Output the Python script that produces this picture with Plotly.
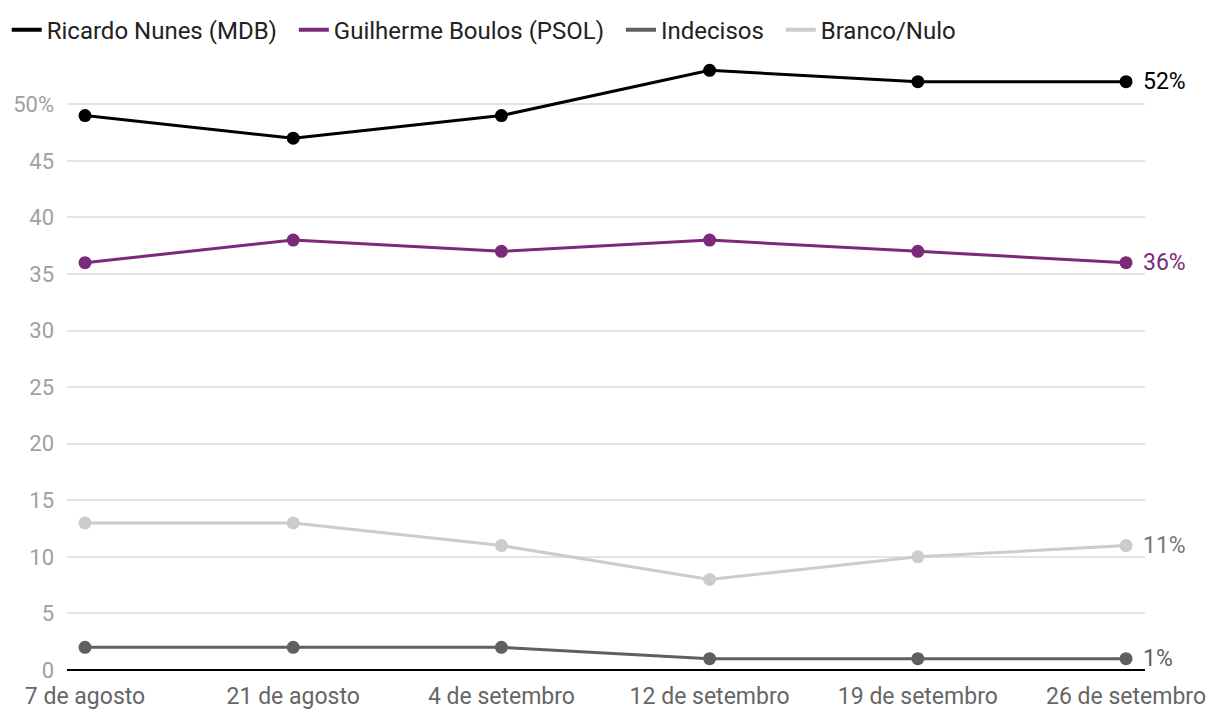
import plotly.graph_objects as go

dates = ["7 de agosto", "21 de agosto", "4 de setembro", "12 de setembro", "19 de setembro", "26 de setembro"]
nunes = [49, 47, 49, 53, 52, 52]
boulos = [36, 38, 37, 38, 37, 36]
indecisos = [2, 2, 2, 1, 1, 1]
branco = [13, 13, 11, 8, 10, 11]

series = [
    ("Ricardo Nunes (MDB)", nunes, "#000000", "#000000"),
    ("Guilherme Boulos (PSOL)", boulos, "#7b2a7b", "#7b2a7b"),
    ("Indecisos", indecisos, "#606060", "#606060"),
    ("Branco/Nulo", branco, "#cccccc", "#777777"),
]

ytick_vals = [0, 5, 10, 15, 20, 25, 30, 35, 40, 45, 50]
ytick_text = ["0", "5", "10", "15", "20", "25", "30", "35", "40", "45", "50%"]

x_idx = list(range(len(dates)))
fig = go.Figure()
for name, vals, col, lblcol in series:
    fig.add_trace(go.Scatter(
        x=x_idx, y=vals, name=name, mode="lines+markers",
        line=dict(color=col, width=3), marker=dict(color=col, size=13),
        cliponaxis=False, showlegend=False,
    ))
    fig.add_annotation(
        x=x_idx[-1], y=vals[-1], text=f"{vals[-1]}%", xref="x", yref="y",
        xanchor="left", yanchor="middle", xshift=15, showarrow=False,
        font=dict(color=lblcol, size=23, family="Roboto"),
    )
for name, vals, col, lblcol in series:
    fig.add_trace(go.Scatter(
        x=[None], y=[None], name=name + "\u00a0\u00a0", mode="lines",
        line=dict(color=col, width=4), showlegend=True,
    ))

fig.update_layout(
    width=1220, height=720,
    margin=dict(l=67, r=75, t=59, b=50, autoexpand=False),
    paper_bgcolor="white", plot_bgcolor="white",
    font=dict(family="Roboto", size=22, color="#222222"),
    legend=dict(orientation="h", x=0.0055, xref="container", y=0.958, yref="container",
                xanchor="left", yanchor="middle",
                font=dict(size=24, color="#222222"), itemwidth=30, traceorder="normal"),
    showlegend=True,
)
fig.update_xaxes(
    range=[-0.0865, 5.0911], tickvals=x_idx, ticktext=dates,
    showgrid=False, zeroline=False, showline=False,
    tickfont=dict(size=23, color="#666666"), ticks="", ticklabelstandoff=10,
)
fig.update_yaxes(
    range=[0, 54], tickvals=ytick_vals, ticktext=ytick_text,
    showgrid=True, gridcolor="#e3e3e3", gridwidth=1.5,
    zeroline=True, zerolinecolor="#000000", zerolinewidth=2,
    tickfont=dict(size=22, color="#a0a0a0"), ticks="", ticklabelstandoff=12,
)
fig.write_html("out.html")
